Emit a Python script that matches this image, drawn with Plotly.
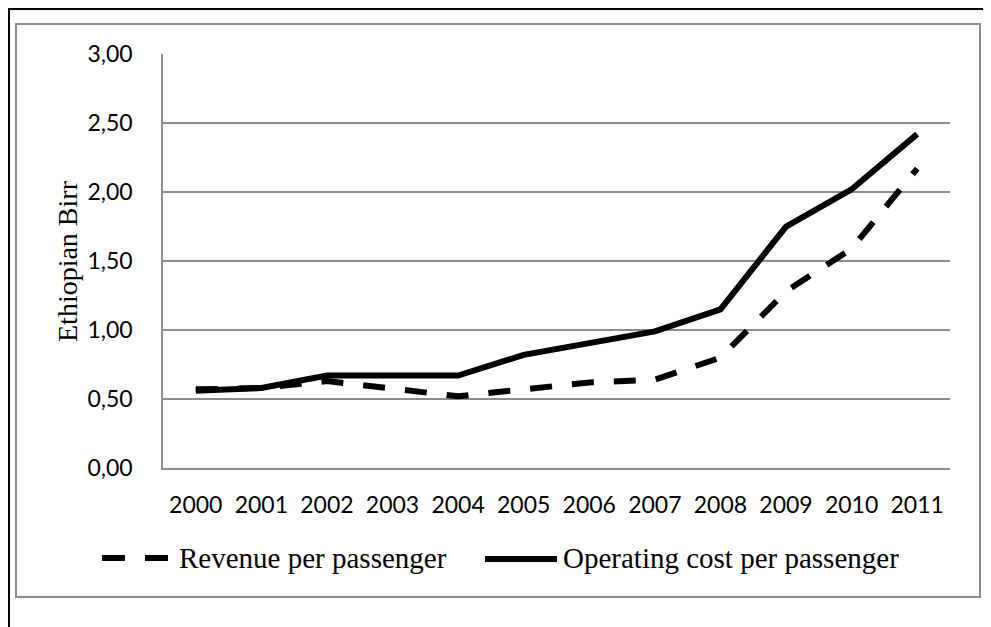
import plotly.graph_objects as go

years = ["2000", "2001", "2002", "2003", "2004", "2005", "2006", "2007", "2008", "2009", "2010", "2011"]
revenue = [0.57, 0.58, 0.63, 0.58, 0.52, 0.57, 0.62, 0.64, 0.80, 1.28, 1.59, 2.17]
operating_cost = [0.56, 0.58, 0.67, 0.67, 0.67, 0.82, 0.90, 0.99, 1.15, 1.75, 2.02, 2.42]
y_ticks = [0, 0.5, 1.0, 1.5, 2.0, 2.5, 3.0]
series_names = ["Revenue per passenger", "Operating cost per passenger"]

OFF = 8  # page body margin
W, H = 991 - OFF, 627 - OFF
L, R, T, B = 163 - OFF, 950 - OFF, 54 - OFF, 468 - OFF  # plot area in figure pixels


def px(x):  # x given in page pixels
    return (x - OFF - L) / (R - L)


def py(y):  # y given in page pixels
    return (B - (y - OFF)) / (B - T)


fig = go.Figure()
fig.add_trace(go.Scatter(x=years, y=revenue, mode="lines", name=series_names[0],
                         line=dict(color="black", width=6, dash="22px,20px")))
fig.add_trace(go.Scatter(x=years, y=operating_cost, mode="lines", name=series_names[1],
                         line=dict(color="black", width=6)))

grid = "#8c8c8c"
tickfont = dict(family="Lato", size=23, color="black")
title_font = dict(family="Liberation Serif", size=28, color="black")
legend_font = dict(family="Liberation Serif", size=29, color="black")

fig.update_layout(
    width=W, height=H,
    margin=dict(l=L, r=W - R, t=T, b=H - B),
    paper_bgcolor="white", plot_bgcolor="white",
    separators=",.",
    showlegend=False,
    xaxis=dict(type="category", range=[-0.5, 11.5], showgrid=False, showline=True,
               linecolor=grid, linewidth=1.5, ticks="", tickfont=tickfont,
               ticklabelstandoff=16, fixedrange=True),
    yaxis=dict(range=[0, 3.0005], tickvals=y_ticks, tickformat=".2f", showgrid=True,
               gridcolor=grid, gridwidth=1.5, showline=True, linecolor=grid, linewidth=1.5,
               zeroline=False, ticks="", tickfont=tickfont, ticklabelstandoff=24),
)

shapes = [
    # outer gray chart border
    dict(type="rect", xref="paper", yref="paper", x0=px(16), x1=px(980), y0=py(597), y1=py(24),
         line=dict(color="#8c8c8c", width=2)),
    # black frame (top and left)
    dict(type="line", xref="paper", yref="paper", x0=px(8), x1=px(1000), y0=py(8.5), y1=py(8.5),
         line=dict(color="black", width=3)),
    dict(type="line", xref="paper", yref="paper", x0=px(8.5), x1=px(8.5), y0=py(8), y1=py(640),
         line=dict(color="black", width=3)),
    # legend samples
    dict(type="line", xref="paper", yref="paper", x0=px(102), x1=px(168), y0=py(558), y1=py(558),
         line=dict(color="black", width=6, dash="23px,20px")),
    dict(type="line", xref="paper", yref="paper", x0=px(485), x1=px(557), y0=py(559), y1=py(559),
         line=dict(color="black", width=6)),
]
fig.update_layout(shapes=shapes)

fig.add_annotation(xref="paper", yref="paper", x=px(67), y=0.5, text="Ethiopian Birr",
                   textangle=-90, showarrow=False, font=title_font, xanchor="center", yanchor="middle")
fig.add_annotation(xref="paper", yref="paper", x=px(177), y=py(558), text=series_names[0],
                   showarrow=False, font=legend_font, xanchor="left", yanchor="middle")
fig.add_annotation(xref="paper", yref="paper", x=px(561), y=py(558), text=series_names[1],
                   showarrow=False, font=legend_font, xanchor="left", yanchor="middle")

fig.write_html("out.html")
